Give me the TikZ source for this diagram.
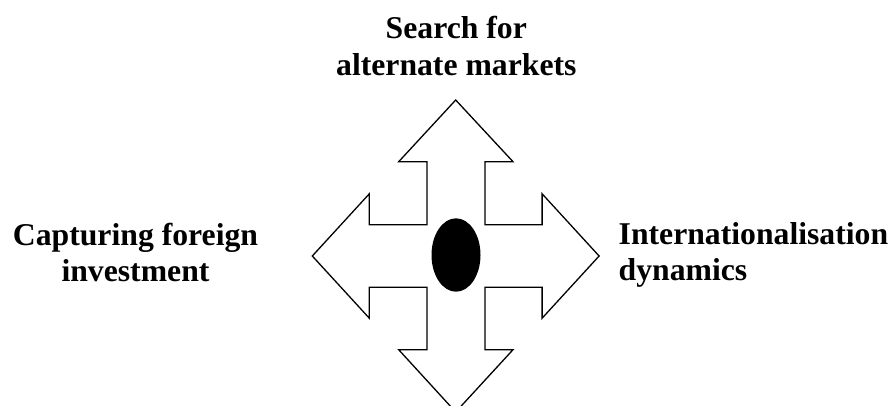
\documentclass[tikz,border=0pt]{standalone}
\usepackage{fontspec}
\setmainfont{Liberation Serif}
\usetikzlibrary{shapes.geometric}
\begin{document}
\begin{tikzpicture}[x=1pt,y=-1pt,
  lbl/.style={font=\fontsize{31.7}{36.3}\selectfont\bfseries, inner sep=0pt, anchor=base},
  crossshape/.style={draw=black, line width=1.3pt, fill=white, line join=miter}]
\useasboundingbox (0,0) rectangle (893,405);
\clip (0,0) rectangle (893,405);
\draw[crossshape]
  (455.7,100) -- (513,161.7) -- (485,161.7) -- (485,224.7)
  -- (542.1,224.7) -- (542.1,193.8) -- (599.1,256) -- (542.1,318.2) -- (542.1,287.3)
  -- (485,287.3) -- (485,349.7) -- (513,349.7) -- (455.7,412) -- (398.7,349.7)
  -- (427,349.7) -- (427,287.3)
  -- (369.3,287.3) -- (369.3,318.2) -- (312.3,256) -- (369.3,193.8) -- (369.3,224.7)
  -- (427,224.7) -- (427,161.7) -- (398.7,161.7) -- cycle;
\node[ellipse, draw=none, fill=black, minimum width=49pt, minimum height=73.4pt, inner sep=0pt] (hub) at (456,255) {};
\node[lbl, align=center] (top) at (456.3,75) {Search for\\alternate markets};
\node[lbl, align=center] (left) at (135.5,281.7) {Capturing foreign\\investment};
\node[lbl, align=left, anchor=base west] (right) at (618.5,280.7) {Internationalisation\\dynamics};
\end{tikzpicture}
\end{document}
